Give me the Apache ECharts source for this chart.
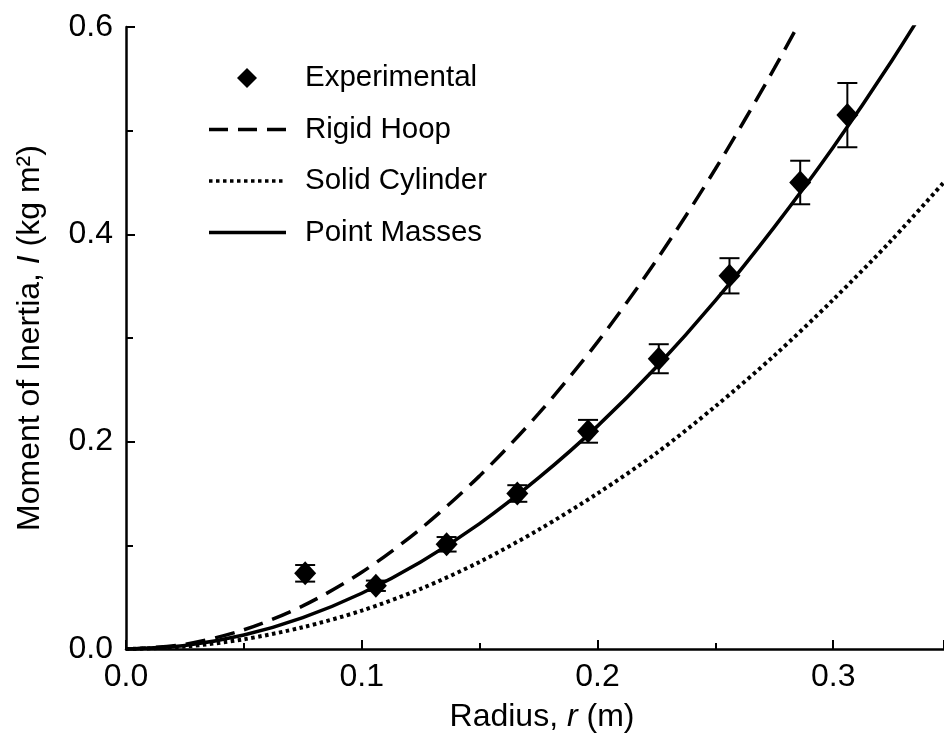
<!DOCTYPE html>
<html>
<head>
<meta charset="utf-8">
<script src="https://cdn.jsdelivr.net/npm/echarts@6/dist/echarts.min.js"></script>
<style>
html,body{margin:0;padding:0;background:#fff;}
#chart{width:944px;height:744px;}
</style>
</head>
<body>
<div id="chart"></div>
<script>
// Experimental data
const radius = [0.076, 0.106, 0.136, 0.166, 0.196, 0.226, 0.256, 0.286, 0.306];
const inertiaExp = [0.073, 0.061, 0.101, 0.150, 0.210, 0.280, 0.360, 0.450, 0.515];
const inertiaErr = [0.008, 0.005, 0.007, 0.008, 0.011, 0.014, 0.017, 0.021, 0.031];

// Model curves
const curveR = [0, 0.025, 0.05, 0.075, 0.1, 0.125, 0.15, 0.175, 0.2, 0.225, 0.25, 0.275, 0.3, 0.325, 0.35];
const hoopI = [0, 0.0046, 0.0185, 0.0416, 0.074, 0.116, 0.167, 0.227, 0.296, 0.375, 0.463, 0.560, 0.666, 0.782, 0.907];
const cylinderI = [0, 0.0023, 0.0094, 0.021, 0.037, 0.058, 0.084, 0.115, 0.150, 0.189, 0.234, 0.283, 0.337, 0.395, 0.458];
const pointMassI = [0, 0.0034, 0.0135, 0.0303, 0.0538, 0.084, 0.121, 0.165, 0.215, 0.272, 0.336, 0.407, 0.484, 0.568, 0.659];

const legendNames = ['Experimental', 'Rigid Hoop', 'Solid Cylinder', 'Point Masses'];

const FONT = '"Liberation Sans", Arial, Helvetica, sans-serif';

const zip = (xs, ys) => xs.map((x, i) => [x, ys[i]]);
const errData = radius.map((x, i) => [x, inertiaExp[i] - inertiaErr[i], inertiaExp[i] + inertiaErr[i]]);

const chart = echarts.init(document.getElementById('chart'));

// legend drawn as graphic
const legX = 209, legX2 = 286, legTextX = 305, legY0 = 78, legDy = 51.5;
const legendGraphic = [];
legendNames.forEach((name, i) => {
  const y = legY0 + i * legDy;
  if (i === 0) {
    legendGraphic.push({type: 'polygon', shape: {points: [[247, y - 10], [257, y], [247, y + 10], [237, y]]}, style: {fill: '#000'}});
  } else {
    const dash = i === 1 ? [19, 10] : (i === 2 ? [3.5, 3.5] : null);
    legendGraphic.push({type: 'line', shape: {x1: legX, y1: y, x2: i === 2 ? 283 : legX2, y2: y},
      style: {stroke: '#000', lineWidth: i === 2 ? 3.5 : 3.5, lineDash: dash}});
  }
  legendGraphic.push({type: 'text', x: legTextX, y: y, style: {text: name, font: '29.5px ' + FONT, fill: '#000', textVerticalAlign: 'middle', verticalAlign: 'middle'}});
});

const option = {
  backgroundColor: '#fff',
  animation: false,
  textStyle: {fontFamily: FONT, color: '#000'},
  grid: {left: 126, right: 0, top: 27, bottom: 95, containLabel: false},
  xAxis: {
    type: 'value', min: 0, max: 0.347, interval: 0.1,
    name: 'Radius, {i|r} (m)', nameLocation: 'middle', nameGap: 52,
    nameTextStyle: {fontSize: 32, color: '#000', fontFamily: FONT, padding: [0, 0, 0, 14],
      rich: {i: {fontSize: 32, fontStyle: 'italic', color: '#000', fontFamily: FONT}}},
    axisLine: {show: true, lineStyle: {color: '#000', width: 2.5}},
    axisTick: {show: true, inside: true, length: 9, lineStyle: {color: '#000', width: 2}},
    minorTick: {show: true, splitNumber: 2, length: 6, lineStyle: {color: '#000', width: 2}},
    axisLabel: {fontSize: 32, color: '#000', margin: 12, fontFamily: FONT, showMaxLabel: false,
      formatter: v => v.toFixed(1)},
    splitLine: {show: false}
  },
  yAxis: {
    type: 'value', min: 0, max: 0.6, interval: 0.2,
    name: 'Moment of Inertia, {i|I} (kg m²)', nameLocation: 'middle', nameGap: 80, nameRotate: 90,
    nameTextStyle: {fontSize: 32, color: '#000', fontFamily: FONT, padding: [0, 0, 0, 0],
      rich: {i: {fontSize: 32, fontStyle: 'italic', color: '#000', fontFamily: FONT}}},
    axisLine: {show: true, lineStyle: {color: '#000', width: 2.5}},
    axisTick: {show: true, inside: true, length: 9, lineStyle: {color: '#000', width: 2}},
    minorTick: {show: true, splitNumber: 2, length: 7, lineStyle: {color: '#000', width: 2}},
    axisLabel: {fontSize: 32, color: '#000', margin: 13, fontFamily: FONT, formatter: v => v.toFixed(1)},
    splitLine: {show: false}
  },
  graphic: legendGraphic,
  series: [
    {name: legendNames[1], type: 'line', data: zip(curveR, hoopI), smooth: 0.3, showSymbol: false, symbol: 'none',
      lineStyle: {color: '#000', width: 3.5, type: [20, 10]}, clip: true, z: 2},
    {name: legendNames[2], type: 'line', data: zip(curveR, cylinderI), smooth: 0.3, showSymbol: false, symbol: 'none',
      lineStyle: {color: '#000', width: 4, type: [3.5, 3.5]}, clip: true, z: 2},
    {name: legendNames[3], type: 'line', data: zip(curveR, pointMassI), smooth: 0.3, showSymbol: false, symbol: 'none',
      lineStyle: {color: '#000', width: 3.5}, clip: true, z: 2},
    {
      name: 'errors', type: 'custom', data: errData, z: 3,
      renderItem: (params, api) => {
        const x = api.value(0);
        const lo = api.coord([x, api.value(1)]);
        const hi = api.coord([x, api.value(2)]);
        const hw = 10;
        const st = {stroke: '#000', lineWidth: 2};
        return {type: 'group', children: [
          {type: 'line', shape: {x1: lo[0], y1: lo[1], x2: hi[0], y2: hi[1]}, style: st},
          {type: 'line', shape: {x1: lo[0] - hw, y1: lo[1], x2: lo[0] + hw, y2: lo[1]}, style: st},
          {type: 'line', shape: {x1: hi[0] - hw, y1: hi[1], x2: hi[0] + hw, y2: hi[1]}, style: st}
        ]};
      }
    },
    {name: legendNames[0], type: 'scatter', data: zip(radius, inertiaExp), symbol: 'diamond', symbolSize: [22, 24],
      itemStyle: {color: '#000', opacity: 1}, z: 4}
  ]
};
chart.setOption(option);
</script>
</body>
</html>
